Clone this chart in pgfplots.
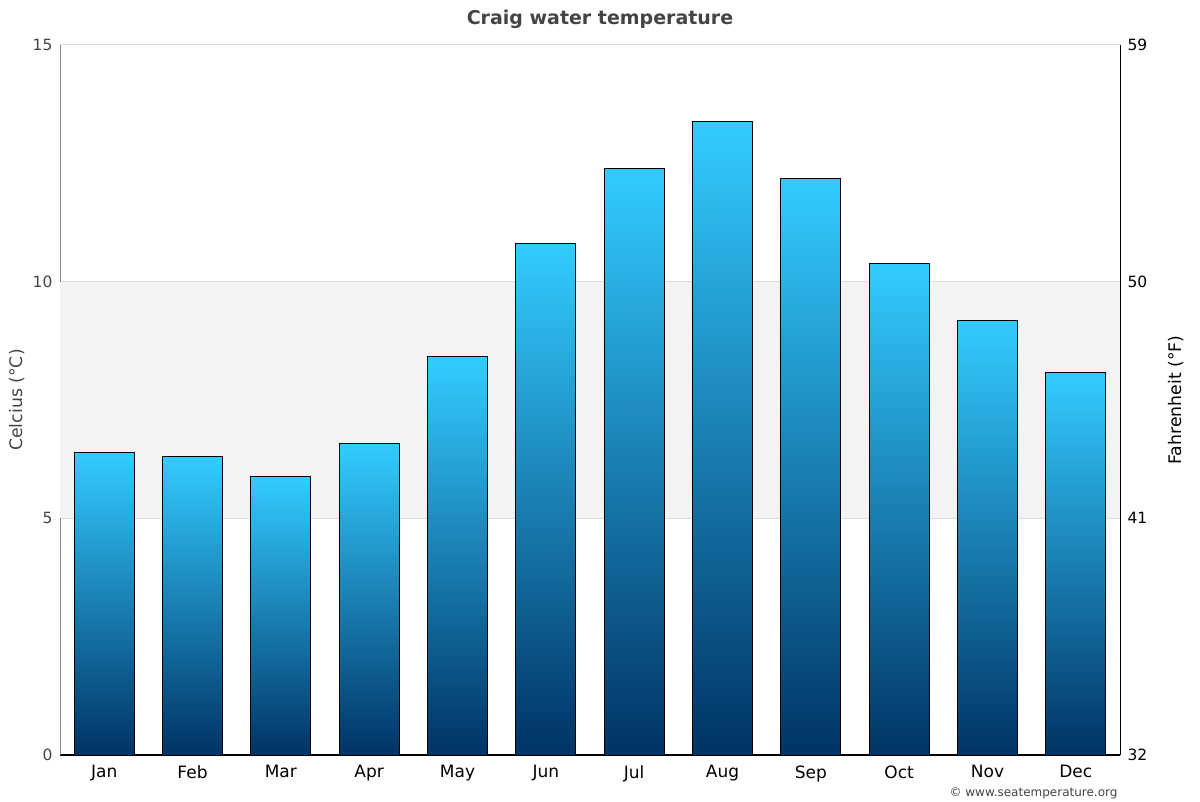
\documentclass[border=0pt]{standalone}
\usepackage{pgfplots}
\pgfplotsset{compat=1.18}
\usepackage{fontspec}
\setmainfont{DejaVu Sans}
\definecolor{bartop}{HTML}{33CCFF}
\definecolor{barbot}{HTML}{003366}
\definecolor{band}{HTML}{F3F3F3}
\definecolor{gridc}{HTML}{DDDDDD}
\definecolor{txtgray}{HTML}{444444}
\definecolor{axgray}{HTML}{888888}
\pgfplotsset{gradbar/.style={ybar, bar width=60pt, bar shift=0pt, draw=black, line width=1pt,
    top color=bartop, bottom color=barbot}}

\begin{document}
\begin{tikzpicture}

\begin{axis}[
    set layers,
    at={(60pt,45pt)}, anchor=south west,
    scale only axis, width=1060pt, height=710pt,
    xmin=-0.5, xmax=11.5, ymin=0, ymax=15,
    axis x line*=bottom, axis y line*=left,
    x axis line style={black, line width=2pt, -},
    y axis line style={axgray, line width=1pt, -},
    xtick={0,...,11},
    xticklabels={Jan,Feb,Mar,Apr,May,Jun,Jul,Aug,Sep,Oct,Nov,Dec},
    ytick={0,5,10,15},
    ymajorgrids, grid style={gridc, line width=1pt},
    major tick length=0pt,
    /pgf/number format/assume math mode=true,
    x tick label style={font=\fontsize{17}{19}\selectfont, text=black, yshift=-7pt},
    y tick label style={font=\fontsize{15.5}{17}\selectfont, text=txtgray, xshift=-4pt},
    ylabel={Celcius (°C)},
    ylabel style={font=\fontsize{17.3}{19}\selectfont, text=txtgray, yshift=1pt},
]
\fill[band, on layer=axis background] (axis cs:-0.5,5) rectangle (axis cs:11.5,10);
% one plot per month so that each bar gets its own gradient
\addplot[gradbar] coordinates {(0,6.40)};
\addplot[gradbar] coordinates {(1,6.30)};
\addplot[gradbar] coordinates {(2,5.89)};
\addplot[gradbar] coordinates {(3,6.59)};
\addplot[gradbar] coordinates {(4,8.41)};
\addplot[gradbar] coordinates {(5,10.80)};
\addplot[gradbar] coordinates {(6,12.40)};
\addplot[gradbar] coordinates {(7,13.39)};
\addplot[gradbar] coordinates {(8,12.19)};
\addplot[gradbar] coordinates {(9,10.39)};
\addplot[gradbar] coordinates {(10,9.19)};
\addplot[gradbar] coordinates {(11,8.09)};
\end{axis}

\begin{axis}[
    at={(60pt,45pt)}, anchor=south west,
    scale only axis, width=1060pt, height=710pt,
    xmin=-0.5, xmax=11.5, ymin=32, ymax=59,
    axis x line=none, axis y line*=right,
    y axis line style={black, line width=1pt, -},
    ytick={32,41,50,59},
    major tick length=0pt,
    /pgf/number format/assume math mode=true,
    y tick label style={font=\fontsize{15.5}{17}\selectfont, text=black, xshift=4pt},
    ylabel={Fahrenheit (°F)},
    ylabel style={font=\fontsize{17.3}{19}\selectfont, text=black, yshift=-14pt},
]
\end{axis}

\node[font=\bfseries\fontsize{19}{22}\selectfont, text=txtgray] at (600pt,781pt) {Craig water temperature};
\node[font=\fontsize{12}{14}\selectfont, text=txtgray, anchor=east] at (1121pt,7pt) {© www.seatemperature.org};
\path (0pt,0pt) rectangle (1200pt,800pt);
\end{tikzpicture}
\end{document}
